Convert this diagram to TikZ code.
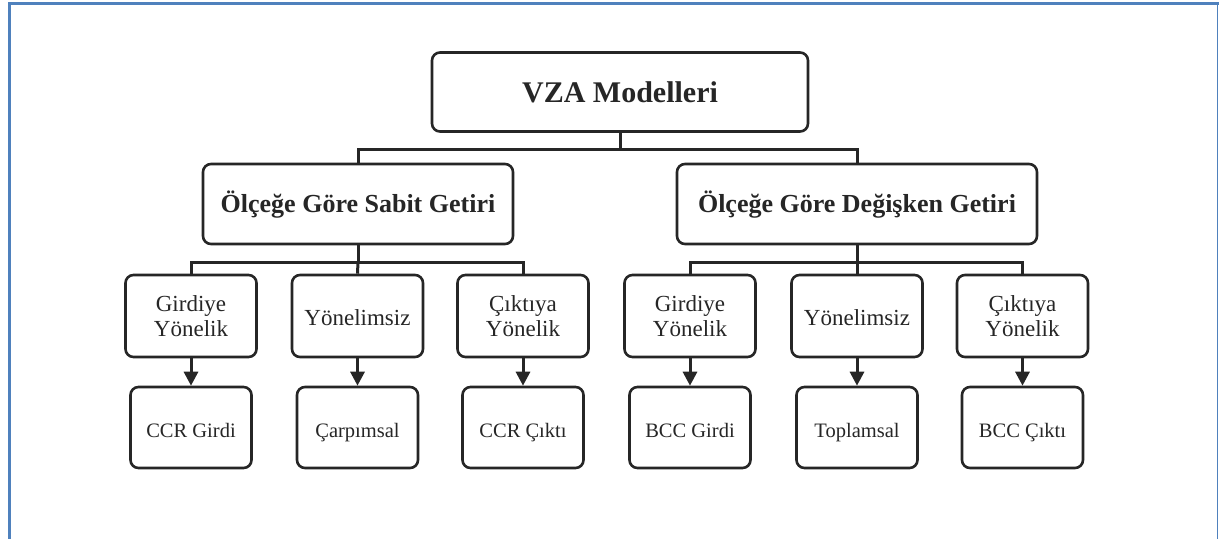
\documentclass[tikz,border=0pt]{standalone}
\usepackage{fontspec}
\setmainfont{Liberation Serif}
\usetikzlibrary{arrows.meta}
\definecolor{frameblue}{HTML}{4F81BD}
\definecolor{ink}{HTML}{262626}
\begin{document}
\begin{tikzpicture}[x=1pt,y=-1pt,
  box/.style={draw=ink,line width=2.6pt,rounded corners=8pt,fill=white,inner sep=0pt,align=center,text=ink},
  topbox/.style={box,minimum width=376pt,minimum height=79pt,text height=20pt,text depth=0pt,font=\bfseries\fontsize{30}{32}\selectfont},
  midbox/.style={box,minimum height=80pt,text height=16pt,text depth=0pt,font=\bfseries\fontsize{26}{28}\selectfont},
  subbox/.style={box,minimum width=131pt,minimum height=82pt,font=\fontsize{23}{25}\selectfont},
  oneline/.style={text height=18pt,text depth=0pt},
  leafbox/.style={box,minimum width=121pt,minimum height=81pt,text height=19pt,text depth=0pt,font=\fontsize{20.5}{22}\selectfont},
  link/.style={draw=ink,line width=3pt},
  arr/.style={link,-{Triangle[width=14pt,length=14pt]}}]
\useasboundingbox (0,0) rectangle (1219,539);
% frame
\draw[frameblue,line width=3.5pt] (8,3.5) -- (1219,3.5);
\draw[frameblue,line width=3pt] (9.5,2) -- (9.5,539);
\draw[frameblue,line width=1.2pt] (1217.8,2) -- (1217.8,539);
% nodes
\node[topbox] (vza) at (620,92) {VZA Modelleri};
\node[midbox,minimum width=310pt] (sab) at (358,204) {Ölçeğe Göre Sabit Getiri};
\node[midbox,minimum width=360pt] (deg) at (857,204) {Ölçeğe Göre Değişken Getiri};
\node[subbox] (s1) at (191,316) {Girdiye\\Yönelik};
\node[subbox,oneline] (s2) at (357.5,316) {Yönelimsiz};
\node[subbox] (s3) at (523,316) {Çıktıya\\Yönelik};
\node[subbox] (s4) at (690,316) {Girdiye\\Yönelik};
\node[subbox,oneline] (s5) at (857,316) {Yönelimsiz};
\node[subbox] (s6) at (1022.5,316) {Çıktıya\\Yönelik};
\node[leafbox] (l1) at (191,427.5) {CCR Girdi};
\node[leafbox] (l2) at (357.5,427.5) {Çarpımsal};
\node[leafbox] (l3) at (523,427.5) {CCR Çıktı};
\node[leafbox] (l4) at (690,427.5) {BCC Girdi};
\node[leafbox] (l5) at (857,427.5) {Toplamsal};
\node[leafbox] (l6) at (1022.5,427.5) {BCC Çıktı};
% junctions
\coordinate (j0) at (620,149);
\coordinate (ja) at (358,262);
\coordinate (jb) at (857,262);
% connectors
\draw[link] (vza.south) -- (j0);
\draw[link] (sab.north) |- (j0) -| (deg.north);
\draw[link] (sab.south) -- (ja);
\draw[link] (s1.north) |- (ja) -| (s3.north);
\draw[link] (ja) -- (s2.north);
\draw[link] (deg.south) -- (jb);
\draw[link] (s4.north) |- (jb) -| (s6.north);
\draw[link] (jb) -- (s5.north);
\draw[arr] (s1.south) -- (l1.north);
\draw[arr] (s2.south) -- (l2.north);
\draw[arr] (s3.south) -- (l3.north);
\draw[arr] (s4.south) -- (l4.north);
\draw[arr] (s5.south) -- (l5.north);
\draw[arr] (s6.south) -- (l6.north);
\end{tikzpicture}
\end{document}
